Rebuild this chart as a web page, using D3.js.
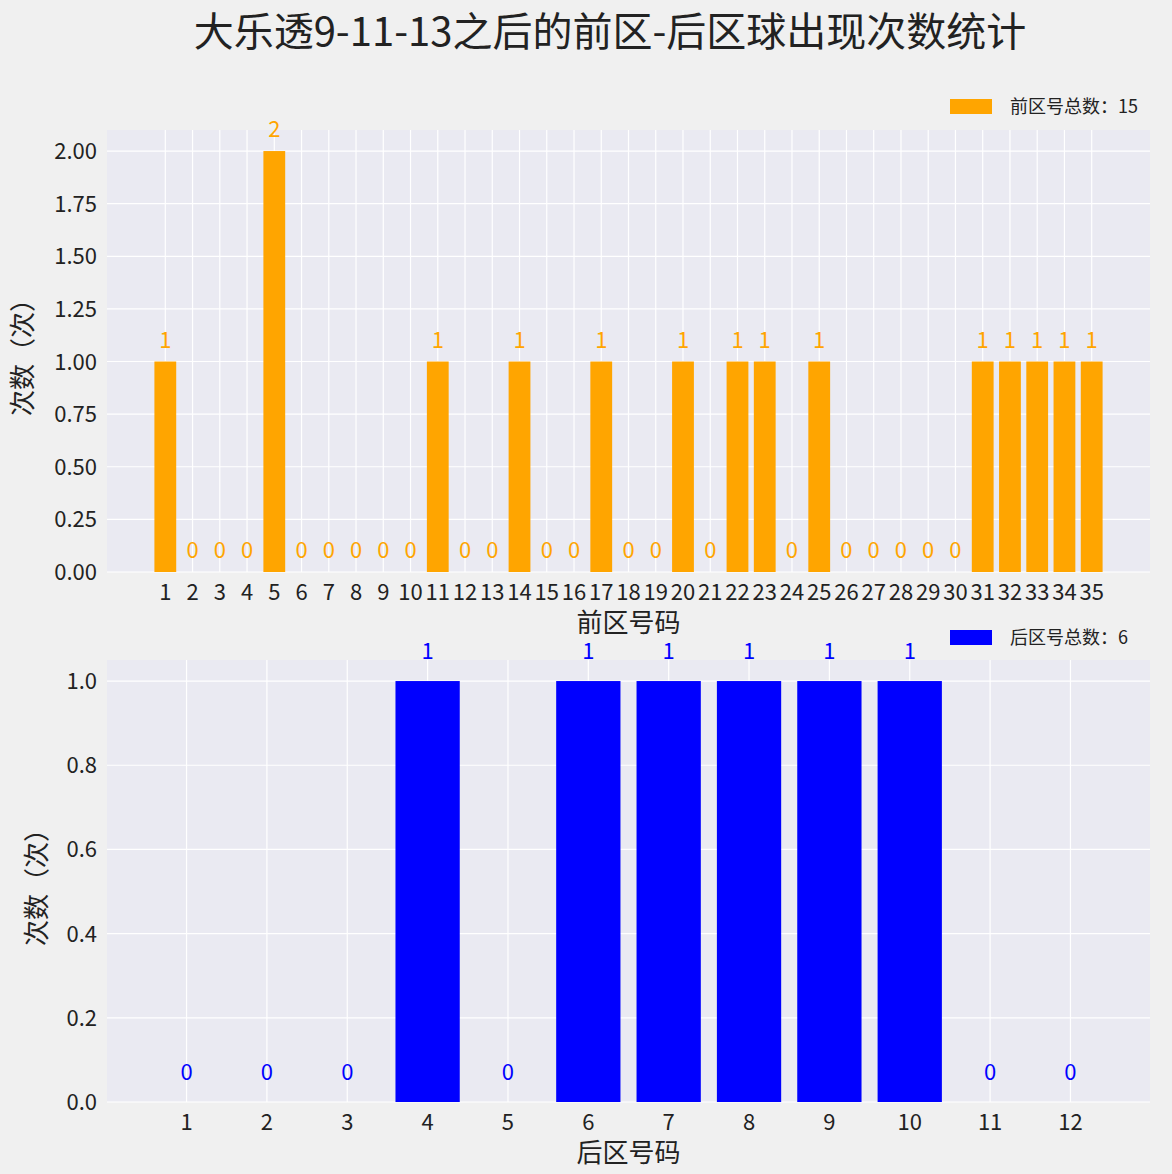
<!DOCTYPE html><html><head><meta charset="utf-8">
<script src="https://cdn.jsdelivr.net/npm/d3@7/dist/d3.min.js"></script>
<style>body{margin:0;background:#f0f0f0}</style></head><body>
<script>
const title="大乐透9-11-13之后的前区-后区球出现次数统计";
const frontNums=d3.range(1,36);
const frontCounts=[1,0,0,0,2,0,0,0,0,0,1,0,0,1,0,0,1,0,0,1,0,1,1,0,1,0,0,0,0,0,1,1,1,1,1];
const backNums=d3.range(1,13);
const backCounts=[0,0,0,1,0,1,1,1,1,1,0,0];
const frontTicks=[0,0.25,0.5,0.75,1,1.25,1.5,1.75,2];
const backTicks=[0,0.2,0.4,0.6,0.8,1.0];
const W=1172,H=1174,F="'Noto Sans CJK SC',sans-serif";
const svg=d3.select("body").append("svg").attr("width",W).attr("height",H).style("font-family",F);
svg.append("rect").attr("width",W).attr("height",H).attr("fill","#f0f0f0");
svg.append("text").attr("x",610).attr("y",46).attr("text-anchor","middle").attr("font-size",40).attr("fill","#222").text(title);
function panel(nums,counts,ticks,fmt,top,bottom,ymax,color,xlabel,ylabelX,legendY,legendText){
  const L=107,R=1150,n=nums.length;
  const lo=0.6,hi=n+0.4,m=(hi-lo)*0.05;
  const x=d3.scaleLinear().domain([lo-m,hi+m]).range([L,R]);
  const y=d3.scaleLinear().domain([0,ymax]).range([bottom,top]);
  const g=svg.append("g");
  g.append("rect").attr("x",L).attr("y",top).attr("width",R-L).attr("height",bottom-top).attr("fill","#eaeaf2");
  g.selectAll(".gx").data(nums).join("line").attr("x1",d=>x(d)).attr("x2",d=>x(d)).attr("y1",top).attr("y2",bottom).attr("stroke","#fff").attr("stroke-width",1.2);
  g.selectAll(".gy").data(ticks).join("line").attr("x1",L).attr("x2",R).attr("y1",d=>y(d)).attr("y2",d=>y(d)).attr("stroke","#fff").attr("stroke-width",1.2);
  const bw=x(0.8)-x(0);
  g.selectAll(".b").data(nums).join("rect").attr("x",(d,i)=>x(d)-bw/2).attr("width",bw).attr("y",(d,i)=>y(counts[i])).attr("height",(d,i)=>bottom-y(counts[i])).attr("fill",color);
  g.selectAll(".v").data(nums).join("text").attr("x",d=>x(d)).attr("y",(d,i)=>y(counts[i])-(n>20?14:22)).attr("text-anchor","middle").attr("font-size",22).attr("fill",color).text((d,i)=>counts[i]);
  g.selectAll(".xt").data(nums).join("text").attr("x",d=>x(d)).attr("y",bottom+28).attr("text-anchor","middle").attr("font-size",22).attr("fill","#222").text(d=>d);
  g.selectAll(".yt").data(ticks).join("text").attr("x",L-10).attr("y",d=>y(d)+8).attr("text-anchor","end").attr("font-size",22).attr("fill","#222").text(fmt);
  g.append("text").attr("x",(L+R)/2).attr("y",bottom+60).attr("text-anchor","middle").attr("font-size",26).attr("fill","#222").text(xlabel);
  g.append("text").attr("transform",`translate(${ylabelX},${(top+bottom)/2}) rotate(-90)`).attr("text-anchor","middle").attr("font-size",26).attr("fill","#222").text("次数（次）");
  g.append("rect").attr("x",950).attr("y",legendY-7).attr("width",42).attr("height",15).attr("fill",color);
  g.append("text").attr("x",1010).attr("y",legendY+7).attr("font-size",18).attr("fill","#222").text(legendText);
}
panel(frontNums,frontCounts,frontTicks,d=>d.toFixed(2),130,572,2.1,"orange","前区号码",32,106,"前区号总数："+d3.sum(frontCounts));
panel(backNums,backCounts,backTicks,d=>d.toFixed(1),660,1102,1.05,"blue","后区号码",46,637,"后区号总数："+d3.sum(backCounts));
</script></body></html>
